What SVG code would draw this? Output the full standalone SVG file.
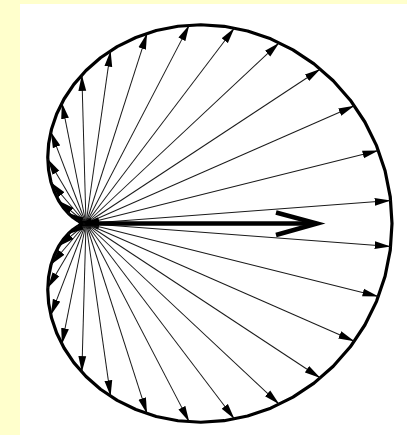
<svg xmlns="http://www.w3.org/2000/svg" width="407" height="435" viewBox="0 0 407 435">
<style>
.v{stroke:#1a1a1a;stroke-width:1;fill:none;marker-end:url(#ah)}
.curve{fill:none;stroke:#000;stroke-width:3.2;stroke-linejoin:round}
.big{fill:none;stroke:#000;stroke-width:4.5;stroke-linecap:butt;stroke-linejoin:miter}
</style>
<defs>
<marker id="ah" markerUnits="userSpaceOnUse" markerWidth="16" markerHeight="9" viewBox="0 0 16 9" refX="16" refY="4.5" orient="auto">
<path d="M0,0.6 L16,4.5 L0,8.4 Z" fill="#000"/>
</marker>
</defs>
<rect x="0" y="0" width="407" height="435" fill="#FFFFCC"/>
<rect x="20" y="4" width="387" height="431" fill="#FFFFFF"/>
<g id="cardioid">
<path class="curve" d="M392,223.5 L390.26,196.88 L385.07,170.77 L376.54,145.65 L364.87,122 L350.34,100.23 L333.25,80.75 L314,63.86 L292.98,49.82 L270.69,38.81 L247.57,30.95 L224.09,26.28 L200.75,24.75 L177.99,26.23 L156.23,30.55 L135.85,37.46 L117.18,46.66 L100.5,57.79 L86,70.5 L73.83,84.37 L64.05,98.99 L56.65,113.96 L51.57,128.9 L48.67,143.44 L47.75,157.25 L48.58,170.06 L50.87,181.64 L54.31,191.81 L58.58,200.49 L63.33,207.63 L68.25,213.25 L73.01,217.44 L77.33,220.34 L80.97,222.15 L83.72,223.1 L85.42,223.45 L86,223.5 L85.42,223.55 L83.72,223.9 L80.97,224.85 L77.33,226.66 L73.01,229.56 L68.25,233.75 L63.33,239.37 L58.58,246.51 L54.31,255.19 L50.87,265.36 L48.58,276.94 L47.75,289.75 L48.67,303.56 L51.57,318.1 L56.65,333.04 L64.05,348.01 L73.83,362.63 L86,376.5 L100.5,389.21 L117.18,400.34 L135.85,409.54 L156.23,416.45 L177.99,420.77 L200.75,422.25 L224.09,420.72 L247.57,416.05 L270.69,408.19 L292.98,397.18 L314,383.14 L333.25,366.25 L350.34,346.77 L364.87,325 L376.54,301.35 L385.07,276.23 L390.26,250.12 Z"/>
</g>
<g id="vectors" transform="translate(86,223.5)">
<line class="v" x2="305.57" transform="rotate(-4.3)"/>
<line class="v" x2="301.46" transform="rotate(-14)"/>
<line class="v" x2="293.10" transform="rotate(-23.7)"/>
<line class="v" x2="280.73" transform="rotate(-33.4)"/>
<line class="v" x2="264.71" transform="rotate(-43.1)"/>
<line class="v" x2="245.50" transform="rotate(-52.8)"/>
<line class="v" x2="223.65" transform="rotate(-62.5)"/>
<line class="v" x2="199.77" transform="rotate(-72.2)"/>
<line class="v" x2="174.56" transform="rotate(-81.9)"/>
<line class="v" x2="148.73" transform="rotate(-91.6)"/>
<line class="v" x2="123.02" transform="rotate(-101.3)"/>
<line class="v" x2="98.17" transform="rotate(-111)"/>
<line class="v" x2="74.89" transform="rotate(-120.7)"/>
<line class="v" x2="53.84" transform="rotate(-130.4)"/>
<line class="v" x2="35.62" transform="rotate(-140.1)"/>
<line class="v" x2="20.77" transform="rotate(-149.8)"/>
<line class="v" x2="9.69" transform="rotate(-159.5)"/>
<line class="v" x2="2.71" transform="rotate(-169.2)"/>
<line class="v" x2="305.57" transform="rotate(4.3)"/>
<line class="v" x2="301.46" transform="rotate(14)"/>
<line class="v" x2="293.10" transform="rotate(23.7)"/>
<line class="v" x2="280.73" transform="rotate(33.4)"/>
<line class="v" x2="264.71" transform="rotate(43.1)"/>
<line class="v" x2="245.50" transform="rotate(52.8)"/>
<line class="v" x2="223.65" transform="rotate(62.5)"/>
<line class="v" x2="199.77" transform="rotate(72.2)"/>
<line class="v" x2="174.56" transform="rotate(81.9)"/>
<line class="v" x2="148.73" transform="rotate(91.6)"/>
<line class="v" x2="123.02" transform="rotate(101.3)"/>
<line class="v" x2="98.17" transform="rotate(111)"/>
<line class="v" x2="74.89" transform="rotate(120.7)"/>
<line class="v" x2="53.84" transform="rotate(130.4)"/>
<line class="v" x2="35.62" transform="rotate(140.1)"/>
<line class="v" x2="20.77" transform="rotate(149.8)"/>
<line class="v" x2="9.69" transform="rotate(159.5)"/>
<line class="v" x2="2.71" transform="rotate(169.2)"/>
</g>
<g id="resultant">
<line class="big" x1="86" y1="223.5" x2="316" y2="223.5"/>
<polyline class="big" points="276,212.5 317,223.5 276,235"/>
</g>
</svg>
